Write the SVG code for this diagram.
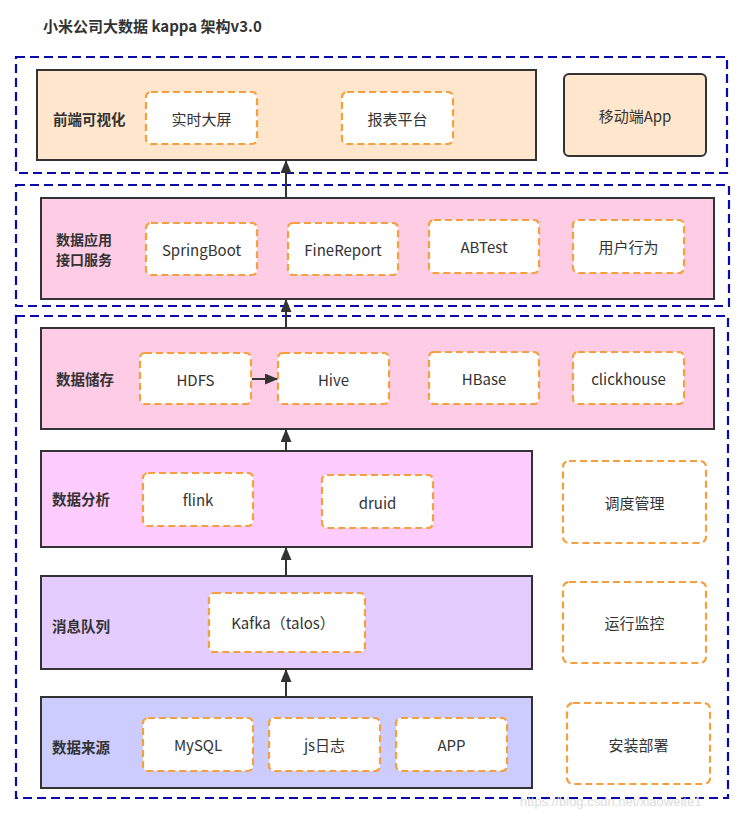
<svg xmlns="http://www.w3.org/2000/svg" width="748" height="817" viewBox="0 0 748 817">
<style>
text{font-family:"Noto Sans CJK SC","Microsoft YaHei","Liberation Sans",sans-serif;fill:#333}
.title{font-size:15px;font-weight:bold}
.lbl{font-size:14.5px;font-weight:bold}
.lbl2{font-size:14px;font-weight:bold}
.t{font-size:15px;text-anchor:middle;dominant-baseline:central}
.zone{fill:none;stroke:#0A0AA8;stroke-width:2.2;stroke-dasharray:9 5}
.layer{stroke:#333;stroke-width:2}
.item{fill:#fff;stroke:#F5A03C;stroke-width:2.2;stroke-dasharray:7 4}
.conn{stroke:#333;stroke-width:2;fill:none}
</style>
<defs>
<marker id="ah" viewBox="0 0 12 10" refX="11" refY="5" markerWidth="7" markerHeight="5.5" orient="auto" markerUnits="strokeWidth">
<path d="M0,0 L12,5 L0,10 z" fill="#333"/>
</marker>
</defs>
<rect width="748" height="817" fill="#fff"/>
<text class="title" x="43" y="32">小米公司大数据 kappa 架构v3.0</text>

<g id="zones">
<rect class="zone" x="16" y="57" width="711" height="116"/>
<rect class="zone" x="16" y="185" width="713" height="121"/>
<rect class="zone" x="16" y="316" width="712" height="482"/>
</g>

<g id="layer-frontend">
<rect class="layer" x="37" y="70" width="499" height="90" fill="#FFE6CC"/>
<text class="lbl" x="53" y="125">前端可视化</text>
</g>
<g id="n-realtime"><rect class="item" x="146" y="92" width="111" height="52" rx="5"/><text class="t" x="201.5" y="118">实时大屏</text></g>
<g id="n-report"><rect class="item" x="342" y="92" width="111" height="52" rx="5"/><text class="t" x="397.5" y="118">报表平台</text></g>
<g id="n-mobile"><rect class="layer" x="564" y="74" width="142" height="82" rx="5" fill="#FFE6CC"/><text class="t" x="635" y="115">移动端App</text></g>

<g id="layer-api">
<rect class="layer" x="41" y="198" width="673" height="101" fill="#FFCCE6"/>
<text class="lbl2" x="56" y="245">数据应用</text>
<text class="lbl2" x="56" y="265">接口服务</text>
</g>
<g id="n-springboot"><rect class="item" x="146" y="223" width="111" height="52" rx="5"/><text class="t" x="201.5" y="249">SpringBoot</text></g>
<g id="n-finereport"><rect class="item" x="288" y="223" width="110" height="52" rx="5"/><text class="t" x="343" y="249">FineReport</text></g>
<g id="n-abtest"><rect class="item" x="429" y="220" width="110" height="53" rx="5"/><text class="t" x="484" y="246">ABTest</text></g>
<g id="n-userbehavior"><rect class="item" x="573" y="220" width="111" height="53" rx="5"/><text class="t" x="628.5" y="246">用户行为</text></g>

<g id="layer-storage">
<rect class="layer" x="41" y="328" width="673" height="101" fill="#FFCCE6"/>
<text class="lbl" x="56" y="385">数据储存</text>
</g>
<g id="n-hdfs"><rect class="item" x="140" y="353" width="111" height="51" rx="5"/><text class="t" x="195.5" y="379">HDFS</text></g>
<g id="n-hive"><rect class="item" x="278" y="353" width="111" height="51" rx="5"/><text class="t" x="333.5" y="379">Hive</text></g>
<g id="n-hbase"><rect class="item" x="429" y="352" width="110" height="52" rx="5"/><text class="t" x="484" y="378">HBase</text></g>
<g id="n-clickhouse"><rect class="item" x="573" y="352" width="111" height="52" rx="5"/><text class="t" x="628.5" y="378">clickhouse</text></g>

<g id="layer-analysis">
<rect class="layer" x="41" y="451" width="491" height="96" fill="#FFCCFF"/>
<text class="lbl" x="52" y="505">数据分析</text>
</g>
<g id="n-flink"><rect class="item" x="143" y="473" width="110" height="53" rx="5"/><text class="t" x="198" y="499">flink</text></g>
<g id="n-druid"><rect class="item" x="322" y="475" width="111" height="53" rx="5"/><text class="t" x="377.5" y="502">druid</text></g>
<g id="n-schedule"><rect class="item" x="563" y="461" width="143" height="82" rx="6"/><text class="t" x="634.5" y="502">调度管理</text></g>

<g id="layer-mq">
<rect class="layer" x="41" y="576" width="491" height="93" fill="#E5CCFF"/>
<text class="lbl" x="52" y="632">消息队列</text>
</g>
<g id="n-kafka"><rect class="item" x="209" y="593" width="156" height="59" rx="5"/><text class="t" x="283" y="622">Kafka（talos）</text></g>
<g id="n-monitor"><rect class="item" x="563" y="582" width="143" height="81" rx="6"/><text class="t" x="634.5" y="622">运行监控</text></g>

<g id="layer-source">
<rect class="layer" x="41" y="697" width="491" height="91" fill="#CCCCFF"/>
<text class="lbl" x="52" y="753">数据来源</text>
</g>
<g id="n-mysql"><rect class="item" x="143" y="718" width="110" height="53" rx="5"/><text class="t" x="198" y="744">MySQL</text></g>
<g id="n-jslog"><rect class="item" x="269" y="718" width="111" height="53" rx="5"/><text class="t" x="324.5" y="744">js日志</text></g>
<g id="n-app"><rect class="item" x="396" y="718" width="111" height="53" rx="5"/><text class="t" x="451.5" y="744">APP</text></g>
<g id="n-deploy"><rect class="item" x="567" y="703" width="143" height="81" rx="6"/><text class="t" x="638.5" y="744">安装部署</text></g>

<g id="connectors">
<line class="conn" x1="286" y1="697" x2="286" y2="670" marker-end="url(#ah)"/>
<line class="conn" x1="286" y1="576" x2="286" y2="548" marker-end="url(#ah)"/>
<line class="conn" x1="286" y1="451" x2="286" y2="430" marker-end="url(#ah)"/>
<line class="conn" x1="286" y1="328" x2="286" y2="300" marker-end="url(#ah)"/>
<line class="conn" x1="286" y1="198" x2="286" y2="161" marker-end="url(#ah)"/>
<line class="conn" x1="252" y1="379" x2="277" y2="379" marker-end="url(#ah)"/>
</g>

<text x="520" y="806" style="font-family:'Liberation Sans',sans-serif;font-size:13px;fill:#dcdcdc">https://blog.csdn.net/xiaoweite1</text>
</svg>
